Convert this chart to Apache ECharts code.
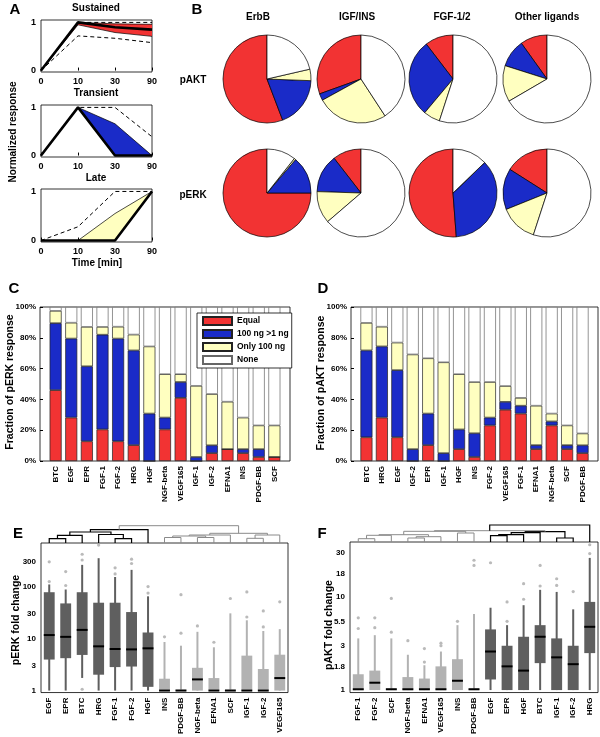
<!DOCTYPE html>
<html><head><meta charset="utf-8">
<script src="https://cdn.jsdelivr.net/npm/echarts@6/dist/echarts.min.js"></script>
<style>html,body{margin:0;padding:0;background:#fff}#c{width:600px;height:737px}</style>
</head><body><div id="c"></div>
<script>
// ================= DATA =================
// Panel A
const timeLabels = ['0', '10', '30', '90'];
const sustainedMedian = [0, 1.0, 0.9, 0.85];
const sustainedBandLow = [0, 0.95, 0.79, 0.71];
const sustainedBandHigh = [0, 1.0, 0.97, 0.96];
const sustainedDashHigh = [0, 1.0, 1.0, 1.0];
const sustainedDashLow = [0, 0.72, 0.67, 0.58];
const transientMedian = [0, 1, 0, 0];
const transientBandLow = [0, 1, 0, 0];
const transientBandHigh = [0, 1, 0.66, 0];
const transientDash = [0, 1, 1, 0.39];
const lateMedian = [0, 0, 0, 1];
const lateBandLow = [0, 0, 0, 1];
const lateBandHigh = [0, 0, 0.55, 1];
const lateDash = [0, 0.28, 1, 1];

// Panel B
const responseClasses = ['Equal', '100 ng >1 ng', 'Only 100 ng', 'None'];
const pieGroups = ['ErbB', 'IGF/INS', 'FGF-1/2', 'Other ligands'];
const pieAKT = [[0.558, 0.186, 0.042, 0.214], [0.305, 0.025, 0.262, 0.408], [0.104, 0.285, 0.061, 0.55], [0.099, 0.102, 0.133, 0.666]];
const pieERK = [[0.75, 0.1375, 0.006, 0.1065], [0.105, 0.14, 0.118, 0.637], [0.512, 0.36, 0, 0.128], [0.16, 0.151, 0.139, 0.55]];

// Panel C (pERK)
const erkLigands = ['BTC', 'EGF', 'EPR', 'FGF-1', 'FGF-2', 'HRG', 'HGF', 'NGF-beta', 'VEGF165', 'IGF-1', 'IGF-2', 'EFNA1', 'INS', 'PDGF-BB', 'SCF'];
const erkEqual = [46, 28.2, 12.8, 20.5, 12.8, 10.3, 0, 20.5, 41, 0, 5.1, 7.7, 5.1, 2.6, 2.6];
const erkDose = [43.5, 51.3, 48.7, 61.5, 66.7, 61.5, 30.8, 7.7, 10.3, 2.6, 5.1, 0, 2.6, 5.1, 0];
const erkOnly100 = [8, 10.3, 25.6, 5.1, 7.7, 10.3, 43.6, 28.2, 5.1, 46.2, 33.3, 30.8, 20.5, 15.4, 20.5];
const erkNone = [2.5, 10.2, 12.9, 12.9, 12.8, 17.9, 25.6, 43.6, 43.6, 51.2, 56.5, 61.5, 71.8, 76.9, 76.9];

// Panel D (pAKT)
const aktLigands = ['BTC', 'HRG', 'EGF', 'IGF-2', 'EPR', 'IGF-1', 'HGF', 'INS', 'FGF-2', 'VEGF165', 'FGF-1', 'EFNA1', 'NGF-beta', 'SCF', 'PDGF-BB'];
const aktEqual = [15.4, 28.2, 15.4, 0, 10.3, 0, 7.7, 2.6, 23.1, 33.3, 30.8, 7.7, 23.1, 7.7, 5.1];
const aktDose = [56.4, 46.2, 43.6, 7.7, 20.5, 5.1, 12.8, 15.4, 5.1, 5.1, 5.1, 2.6, 2.6, 2.6, 5.1];
const aktOnly100 = [17.9, 12.8, 17.9, 61.5, 35.9, 59, 35.9, 33.3, 23.1, 10.3, 5.1, 25.6, 5.1, 12.8, 7.7];
const aktNone = [10.3, 12.8, 23.1, 30.8, 33.3, 35.9, 43.6, 48.7, 48.7, 51.3, 59, 64.1, 69.2, 76.9, 82.1];

// Panel E (pERK fold change box plots) : [whiskerLow, Q1, median, Q3, whiskerHigh]
const erkBoxLigands = ['EGF', 'EPR', 'BTC', 'HRG', 'FGF-1', 'FGF-2', 'HGF', 'INS', 'PDGF-BB', 'NGF-beta', 'EFNA1', 'SCF', 'IGF-1', 'IGF-2', 'VEGF165'];
const erkBoxStats = [
  [1, 3.95, 11.7, 78, 110], [1, 4.2, 10.8, 47.5, 88], [1.75, 4.85, 14.7, 78, 262], [1, 2.02, 7.1, 49, 352],
  [1, 2.83, 6.3, 49, 153], [1, 2.9, 6.2, 32.4, 210], [1, 1.18, 6.5, 13.1, 65], [1, 1, 1, 1.69, 8.6],
  [1, 1, 1, 1.05, 7.3], [1, 1, 1.64, 2.74, 13.5], [1, 1, 1, 1.74, 6.8], [1, 1, 1, 1.05, 30.6],
  [1, 1, 1, 4.7, 22.5], [1, 1, 1, 2.6, 14], [1, 1, 1.74, 4.9, 15.2]];
const erkBoxOutliers = [[125, 300], [105, 195], [1.06, 325, 419], [630], [175, 230], [278, 337], [75, 100],
  [10.8], [12.7, 70], [17.5], [8.5], [59], [26, 79], [16.8, 34], [51]];
const erkBoxDark = [1, 1, 1, 1, 1, 1, 1, 0, 0, 0, 0, 0, 0, 0, 0];
const erkTicks = [1, 3, 10, 30, 100, 300];
// dendrogram links: [xLeft, xRight, height, heightLeft, heightRight, dark]
const erkDendro = [
  [0, 1, 4.3, 0, 0, 1], [0.5, 2, 7.7, 4.3, 0, 1], [4, 5, 4.3, 0, 0, 1], [3, 4.5, 8.5, 0, 4.3, 1],
  [1.25, 3.75, 11, 7.7, 8.5, 1], [2.5, 6, 13.3, 11, 0, 1],
  [7, 8, 5.5, 0, 0, 0], [9, 10, 5.5, 0, 0, 0], [7.5, 9.5, 7, 5.5, 5.5, 0], [8.5, 11, 8, 7, 0, 0],
  [12, 13, 4.7, 0, 0, 0], [12.5, 14, 8, 4.7, 0, 0], [9.75, 13.25, 9.7, 8, 8, 0],
  [4.25, 11.5, 17.3, 13.3, 9.7, 0]];

// Panel F (pAKT fold change box plots)
const aktBoxLigands = ['FGF-1', 'FGF-2', 'SCF', 'NGF-beta', 'EFNA1', 'VEGF165', 'INS', 'PDGF-BB', 'EGF', 'EPR', 'HGF', 'BTC', 'IGF-1', 'IGF-2', 'HRG'];
const aktBoxStats = [
  [1, 1, 1.02, 1.48, 3.6], [1, 1, 1.2, 1.62, 3.9], [1, 1, 1.02, 1.04, 3.6], [1, 1, 1.02, 1.38, 2.4],
  [1, 1, 1.02, 1.33, 1.85], [1, 1, 1.02, 1.8, 2.6], [1, 1, 1.26, 2.15, 5.0], [1, 1, 1.02, 1.04, 6.6],
  [1, 1.3, 2.6, 4.5, 7.7], [1, 1, 1.8, 3.0, 5.0], [1, 1, 1.62, 3.75, 8.2], [1, 1.95, 3.75, 5.0, 12],
  [1, 1, 2.25, 3.6, 11.4], [1, 1, 1.9, 3.0, 7.4], [1, 2.5, 4.8, 8.9, 26.5]];
const aktBoxOutliers = [[4.6, 6.0], [4.7, 6.0], [4.2, 9.7], [3.4], [2.0, 2.8], [3.0, 3.2], [5.5], [22, 25],
  [23.5], [5.5, 8.9], [9.5, 14], [13.2, 22], [13.4, 15.8], [11.5], [29.5, 36.7]];
const aktBoxDark = [0, 0, 0, 0, 0, 0, 0, 0, 1, 1, 1, 1, 1, 1, 1];
const aktTicks = [1, 1.8, 3, 5.5, 10, 18, 30];
const aktDendro = [
  [0, 1, 3.3, 0, 0, 0], [0.5, 2, 6.7, 3.3, 0, 0], [3, 4, 4, 0, 0, 0], [3.5, 5, 5.3, 4, 0, 0],
  [1.25, 4.25, 7.3, 6.7, 5.3, 0], [6, 7, 9, 0, 0, 0], [2.75, 6.5, 10.7, 7.3, 9, 0],
  [8, 9, 6.3, 0, 0, 1], [8.5, 10, 7.3, 6.3, 0, 1], [9.25, 11, 9.3, 7.3, 0, 1], [12, 13, 4, 0, 0, 1],
  [10.1, 12.5, 10.3, 9.3, 4, 1], [4.6, 11.3, 11.3, 10.7, 10.3, 0], [7.95, 14, 17, 11.3, 0, 1]];

// ================= STYLE =================
const FONT = '"Liberation Sans", Arial, Helvetica, sans-serif';
const classColors = ['#f23333', '#1a2bc8', '#ffffc0', '#ffffff'];
const darkBox = '#5f5f5f', lightBox = '#b2b2b2';

const chart = echarts.init(document.getElementById('c'), null, {renderer: 'canvas'});

// C/D: frame grids span 16 slots; inner bar grids span the 15 bar slots
const cFrame = {left: 40, top: 307, width: 250, height: 154};
const dFrame = {left: 351, top: 307, width: 247, height: 154};
const inner = f => ({left: f.left + f.width / 32, top: f.top, width: f.width * 15 / 16, height: f.height});

const grids = [
  {left: 41, top: 20, width: 111, height: 52, show: true},   // 0 A sustained
  {left: 41, top: 105, width: 111, height: 52, show: true},  // 1 A transient
  {left: 41, top: 189, width: 111, height: 53, show: true},  // 2 A late
  Object.assign({show: true}, cFrame),                       // 3 C frame
  Object.assign({show: true}, dFrame),                       // 4 D frame
  {left: 41, top: 543, width: 247, height: 151, show: true}, // 5 E
  {left: 350, top: 542, width: 248, height: 152, show: true},// 6 F
  {left: 41, top: 520, width: 247, height: 23, show: false}, // 7 E dendro
  {left: 350, top: 520, width: 248, height: 22, show: false},// 8 F dendro
  Object.assign({show: false}, inner(cFrame)),               // 9 C bars
  Object.assign({show: false}, inner(dFrame))                // 10 D bars
].map(g => Object.assign(g, {borderColor: '#000', borderWidth: 0.8, backgroundColor: 'transparent', containLabel: false}));

const lbl = {fontFamily: FONT, fontWeight: 'bold', fontSize: 8, color: '#000'};

const xAxes = [], yAxes = [];
for (let i = 0; i < 3; i++) {
  xAxes.push({gridIndex: i, type: 'category', data: timeLabels, boundaryGap: false,
    axisLine: {show: false}, axisTick: {inside: true, length: 3, lineStyle: {color: '#000'}},
    axisLabel: Object.assign({}, lbl, {margin: 5, fontSize: 9}), splitLine: {show: false}});
  yAxes.push({gridIndex: i, type: 'value', min: -0.03, max: 1.05,
    axisLine: {show: false}, axisTick: {inside: true, length: 3, customValues: [0, 1], lineStyle: {color: '#000'}},
    axisLabel: Object.assign({}, lbl, {margin: 5, fontSize: 9, customValues: [0, 1]}), splitLine: {show: false}});
}
[3, 4].forEach(g => {
  xAxes.push({gridIndex: g, type: 'value', min: 0, max: 1, show: false});
  yAxes.push({gridIndex: g, type: 'value', min: 0, max: 100, interval: 20,
    axisLine: {show: false}, axisTick: {inside: true, length: 3, lineStyle: {color: '#000'}}, splitLine: {show: false},
    axisLabel: Object.assign({}, lbl, {margin: 4, formatter: '{value}%'})});
});
[[5, erkBoxLigands, erkTicks, 0.916, 690], [6, aktBoxLigands, aktTicks, 0.94, 39.3]].forEach(([g, cats, ticks, mn, mx]) => {
  xAxes.push({gridIndex: g, type: 'category', data: cats, boundaryGap: true,
    axisLine: {show: false}, axisTick: {show: false}, splitLine: {show: false},
    axisLabel: Object.assign({}, lbl, {rotate: 90, margin: 5, interval: 0})});
  yAxes.push({gridIndex: g, type: 'log', logBase: 10, min: mn, max: mx,
    axisLine: {show: false}, splitLine: {show: false},
    axisTick: {inside: true, length: 3, customValues: ticks, lineStyle: {color: '#000'}},
    axisLabel: Object.assign({}, lbl, {margin: 5, customValues: ticks, formatter: v => String(+(+v).toPrecision(3))})});
});
[7, 8].forEach(g => {
  xAxes.push({gridIndex: g, type: 'value', min: -0.5, max: 14.5, show: false});
  yAxes.push({gridIndex: g, type: 'value', min: 0, max: g === 7 ? 23 : 22, show: false});
});
[[9, erkLigands], [10, aktLigands]].forEach(([g, cats]) => {
  xAxes.push({gridIndex: g, type: 'category', data: cats, boundaryGap: true,
    axisLine: {show: false}, axisTick: {show: false}, splitLine: {show: false},
    axisLabel: Object.assign({}, lbl, {rotate: 90, margin: 5, interval: 0})});
  yAxes.push({gridIndex: g, type: 'value', min: 0, max: 100, show: false});
});

const series = [];
const noAnim = {animation: false, silent: true, emphasis: {disabled: true}};

// ---- Panel A ----
function bandSeries(ax, low, high, color) {
  const diff = high.map((h, i) => +(h - low[i]).toFixed(4));
  series.push(Object.assign({type: 'line', xAxisIndex: ax, yAxisIndex: ax, stack: 'band' + ax, data: low,
    symbol: 'none', lineStyle: {color: '#000', width: 0.7}}, noAnim));
  series.push(Object.assign({type: 'line', xAxisIndex: ax, yAxisIndex: ax, stack: 'band' + ax, data: diff,
    symbol: 'none', lineStyle: {color: '#000', width: 0.7}, areaStyle: {color: color, opacity: 1}}, noAnim));
}
function lineSeries(ax, data, dashed) {
  series.push(Object.assign({type: 'line', xAxisIndex: ax, yAxisIndex: ax, data: data, symbol: 'none',
    lineStyle: dashed ? {color: '#000', width: 1, type: [4, 3]} : {color: '#000', width: 2.6}}, noAnim));
}
bandSeries(0, sustainedBandLow, sustainedBandHigh, classColors[0]);
lineSeries(0, sustainedMedian, false);
lineSeries(0, sustainedDashHigh, true);
lineSeries(0, sustainedDashLow, true);
bandSeries(1, transientBandLow, transientBandHigh, classColors[1]);
lineSeries(1, transientMedian, false);
lineSeries(1, transientDash, true);
bandSeries(2, lateBandLow, lateBandHigh, classColors[2]);
lineSeries(2, lateMedian, false);
lineSeries(2, lateDash, true);

// ---- Panel B pies ----
const pieCx = [267, 361, 453, 547];
const pieCy = [79, 193];
[pieAKT, pieERK].forEach((rows, r) => rows.forEach((vals, c) => {
  series.push(Object.assign({type: 'pie', center: [pieCx[c], pieCy[r]], radius: 44, startAngle: 90, clockwise: false,
    label: {show: false}, labelLine: {show: false}, minAngle: 0, avoidLabelOverlap: false,
    itemStyle: {borderColor: '#000', borderWidth: 0.7},
    data: vals.map((v, k) => ({name: responseClasses[k], value: v, itemStyle: {color: classColors[k]}}))}, noAnim));
}));

// ---- Panels C and D ----
[[9, [erkEqual, erkDose, erkOnly100, erkNone]], [10, [aktEqual, aktDose, aktOnly100, aktNone]]].forEach(([ax, arrs]) => {
  arrs.forEach((arr, k) => {
    series.push(Object.assign({type: 'bar', name: responseClasses[k], xAxisIndex: ax, yAxisIndex: ax, stack: 'frac' + ax,
      barWidth: 12, data: arr,
      itemStyle: {color: classColors[k], borderColor: k === 3 ? '#666' : '#222', borderWidth: 0.7}}, noAnim));
  });
});

// ---- Panels E and F ----
function boxRender(params, api) {
  const i = api.value(0);
  const x0 = api.coord([i, 1]);
  const step = api.coord([1, 1])[0] - api.coord([0, 1])[0];
  const yOf = k => api.coord([i, api.value(k)])[1];
  const col = api.value(6) ? darkBox : lightBox;
  const bw = step * 0.66, x = x0[0];
  return {type: 'group', children: [
    {type: 'line', shape: {x1: x, y1: yOf(1), x2: x, y2: yOf(5)}, style: {stroke: col, lineWidth: 2}},
    {type: 'rect', shape: {x: x - bw / 2, y: yOf(4), width: bw, height: Math.max(yOf(2) - yOf(4), 1.5)}, style: {fill: col}},
    {type: 'line', shape: {x1: x - bw / 2, y1: yOf(3), x2: x + bw / 2, y2: yOf(3)}, style: {stroke: '#000', lineWidth: 2}}
  ]};
}
[[5, erkBoxStats, erkBoxDark, erkBoxOutliers], [6, aktBoxStats, aktBoxDark, aktBoxOutliers]].forEach(([ax, stats, dark, outs]) => {
  series.push(Object.assign({type: 'custom', xAxisIndex: ax, yAxisIndex: ax, renderItem: boxRender,
    dimensions: ['i', 'lo', 'q1', 'med', 'q3', 'hi', 'dark'], encode: {x: 0, y: [1, 2, 3, 4, 5]},
    data: stats.map((s, i) => [i].concat(s, [dark[i]]))}, noAnim));
  const pts = [];
  outs.forEach((arr, i) => arr.forEach(v => pts.push([i, v])));
  series.push(Object.assign({type: 'scatter', xAxisIndex: ax, yAxisIndex: ax, data: pts, symbolSize: 3.2,
    itemStyle: {color: '#a9a9a9'}}, noAnim));
});
function dendroRender(params, api) {
  const a = api.coord([api.value(0), api.value(3)]);
  const b = api.coord([api.value(0), api.value(2)]);
  const c = api.coord([api.value(1), api.value(2)]);
  const d = api.coord([api.value(1), api.value(4)]);
  const dk = api.value(5);
  return {type: 'polyline', shape: {points: [a, b, c, d]},
    style: {stroke: dk ? '#000' : '#8a8a8a', lineWidth: dk ? 1.2 : 1, fill: null}};
}
[[7, erkDendro], [8, aktDendro]].forEach(([ax, links]) => {
  series.push(Object.assign({type: 'custom', xAxisIndex: ax, yAxisIndex: ax, renderItem: dendroRender,
    dimensions: ['xl', 'xr', 'h', 'hl', 'hr', 'dk'], encode: {x: [0, 1], y: [2]}, data: links}, noAnim));
});

// ---- texts ----
function txt(t, x, y, size, opts) {
  return Object.assign({type: 'text', x: x, y: y, silent: true, z: 100,
    style: {text: t, font: 'bold ' + size + 'px ' + FONT, fill: '#000', textAlign: 'center', textVerticalAlign: 'middle', align: 'center', verticalAlign: 'middle'}}, opts || {});
}
const rot = {rotation: Math.PI / 2};
const graphics = [
  txt('A', 15, 10, 15), txt('B', 197, 10, 15), txt('C', 14, 289, 15), txt('D', 323, 289, 15), txt('E', 18, 534, 15), txt('F', 322, 534, 15),
  txt('Sustained', 96, 8, 10), txt('Transient', 96, 93, 10), txt('Late', 96, 178, 10), txt('Time [min]', 97, 263, 10),
  txt('Normalized response', 13, 132, 10, rot),
  txt('pAKT', 193, 80, 10), txt('pERK', 193, 195, 10),
  txt('Fraction of pERK response', 10, 382, 10.5, rot), txt('Fraction of pAKT response', 321, 383, 10.5, rot),
  txt('pERK fold change', 16, 620, 10.5, rot), txt('pAKT fold change', 329, 625, 10.5, rot)
];
pieGroups.forEach((g, c) => graphics.push(txt(g, [258, 357, 452, 547][c], 17, 10)));

chart.setOption({
  animation: false,
  backgroundColor: '#fff',
  grid: grids,
  xAxis: xAxes,
  yAxis: yAxes,
  legend: {data: responseClasses, orient: 'vertical', left: 197, top: 313, itemWidth: 29, itemHeight: 8, itemGap: 3,
    padding: [3, 3, 3, 5], backgroundColor: '#fff', borderColor: '#000', borderWidth: 0.8, selectedMode: false,
    icon: 'rect', textStyle: {fontFamily: FONT, fontWeight: 'bold', fontSize: 8.5, lineHeight: 9, color: '#000'}},
  series: series,
  graphic: graphics
});
</script>
</body></html>
